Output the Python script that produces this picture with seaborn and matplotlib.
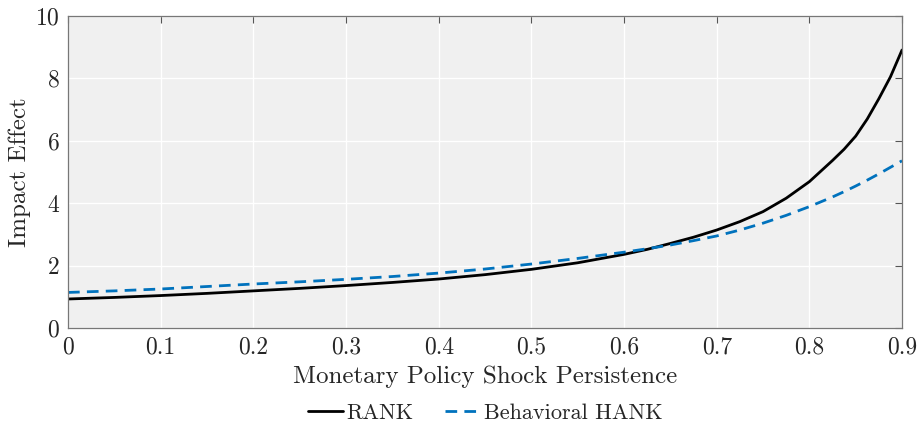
import matplotlib
matplotlib.use("Agg")
import matplotlib.pyplot as plt
import seaborn as sns
import pandas as pd

# persistence grid and impact effects
persistence = [0.0, 0.05, 0.1, 0.15, 0.2, 0.25, 0.3, 0.35, 0.4, 0.45, 0.5,
               0.55, 0.6, 0.625, 0.65, 0.675, 0.7, 0.725, 0.75, 0.775, 0.8,
               0.825, 0.8375, 0.85, 0.8625, 0.875, 0.8875, 0.9]
rank = [0.93, 0.98, 1.04, 1.11, 1.19, 1.27, 1.36, 1.46, 1.57, 1.71, 1.88,
        2.09, 2.36, 2.52, 2.71, 2.91, 3.14, 3.41, 3.73, 4.16, 4.69,
        5.37, 5.73, 6.15, 6.70, 7.35, 8.05, 8.91]
hank = [1.14, 1.19, 1.25, 1.33, 1.41, 1.48, 1.56, 1.65, 1.76, 1.89, 2.05,
        2.23, 2.43, 2.54, 2.66, 2.80, 2.95, 3.14, 3.36, 3.61, 3.89,
        4.20, 4.37, 4.55, 4.74, 4.94, 5.15, 5.36]

df = pd.DataFrame({
    "rho": persistence * 2,
    "impact": rank + hank,
    "model": ["RANK"] * len(rank) + ["Behavioral HANK"] * len(hank),
})

sns.set_style("darkgrid", {"axes.facecolor": "#f0f0f0", "grid.color": "white"})
plt.rcParams["font.family"] = ["cmr10", "DejaVu Serif"]
plt.rcParams["axes.formatter.use_mathtext"] = True
plt.rcParams["mathtext.fontset"] = "cm"

fig = plt.figure(figsize=(9.18, 4.3), dpi=100)
ax = fig.add_axes([0.0741, 0.2372, 0.9085, 0.7256])

sns.lineplot(
    data=df, x="rho", y="impact", hue="model", style="model",
    palette={"RANK": "black", "Behavioral HANK": "#0072BD"},
    dashes={"RANK": "", "Behavioral HANK": (4.2, 2.6)},
    linewidth=2, ax=ax,
)

ax.set_xlim(0, 0.9)
ax.set_ylim(0, 10)
ax.set_xticks([0, 0.1, 0.2, 0.3, 0.4, 0.5, 0.6, 0.7, 0.8, 0.9])
ax.set_xticklabels(["0", "0.1", "0.2", "0.3", "0.4", "0.5", "0.6", "0.7", "0.8", "0.9"])
ax.set_yticks([0, 2, 4, 6, 8, 10])
ax.set_xlabel("Monetary Policy Shock Persistence", fontsize=18, labelpad=5)
ax.set_ylabel("Impact Effect", fontsize=18, labelpad=3)
ax.tick_params(direction="in", length=5, width=0.8, color="#555555",
               labelsize=17, top=True, right=True, pad=6)
ax.grid(True, color="white", linewidth=1)
for s in ax.spines.values():
    s.set_visible(True)
    s.set_color("#777777")
    s.set_linewidth(0.9)

leg = ax.legend(loc="upper center", bbox_to_anchor=(0.5, -0.178), ncol=2,
                frameon=False, fontsize=16, handlelength=1.6,
                handletextpad=0.15, columnspacing=1.4)
leg.set_title(None)

plt.savefig("out.png", dpi=100)
